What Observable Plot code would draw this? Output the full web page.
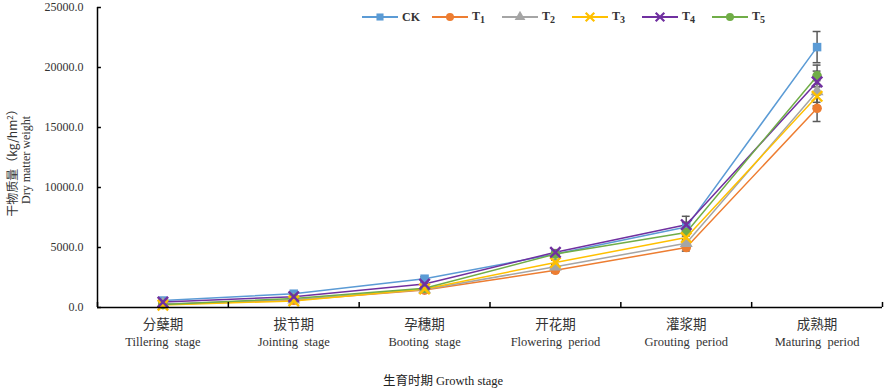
<!DOCTYPE html>
<html><head><meta charset="utf-8">
<script src="https://cdn.jsdelivr.net/npm/d3@7"></script>
<script src="https://cdn.jsdelivr.net/npm/@observablehq/plot@0.6"></script>
<style>
body{margin:0;background:#fff;}
#wrap{position:relative;width:886px;height:388px;font-family:"Liberation Serif",serif;}
#legend{position:absolute;top:9px;left:362px;display:flex;gap:0;font-family:"Liberation Serif",serif;font-size:12px;color:#333;}
.item{display:flex;align-items:center;width:70px;}
.item span{margin-left:4px;font-weight:bold;}
#xtitle{position:absolute;top:370px;left:0;width:886px;text-align:center;font-size:12.5px;font-family:"Liberation Serif","Noto Sans CJK SC",serif;color:#222;}
</style></head>
<body><div id="wrap"><div id="chart"></div><div id="legend"></div><div id="xtitle">生育时期 Growth stage</div></div>
<script>
const stagesCN = ["分蘖期","拔节期","孕穗期","开花期","灌浆期","成熟期"];
const stagesEN = ["Tillering  stage","Jointing  stage","Booting  stage","Flowering  period","Grouting  period","Maturing  period"];
const seriesNames = ["CK","T1","T2","T3","T4","T5"];
const seriesLabels = ["CK","T<sub>1</sub>","T<sub>2</sub>","T<sub>3</sub>","T<sub>4</sub>","T<sub>5</sub>"];
const colors = ["#5B9BD5","#ED7D31","#A5A5A5","#FFC000","#7030A0","#70AD47"];
const symbols = ["square","circle","triangle","times","times","circle"];
const CK = [580, 1150, 2400, 4450, 6700, 21700];
const T1 = [250, 600, 1450, 3100, 5000, 16600];
const T2 = [300, 650, 1500, 3400, 5350, 18000];
const T3 = [200, 550, 1550, 3750, 5830, 17600];
const T4 = [450, 900, 1950, 4600, 6900, 18800];
const T5 = [250, 750, 1600, 4450, 6250, 19300];
const errCK = [60, 90, 150, 250, 400, 1300];
const errT1 = [40, 60, 120, 200, 300, 1100];
const errT2 = [40, 60, 120, 200, 300, 900];
const errT3 = [40, 60, 120, 200, 300, 800];
const errT4 = [50, 70, 130, 220, 700, 900];
const errT5 = [40, 60, 120, 200, 300, 900];
const yTicks = [0, 5000, 10000, 15000, 20000, 25000];

const vals = [CK,T1,T2,T3,T4,T5];
const errs = [errCK,errT1,errT2,errT3,errT4,errT5];
const data = [];
vals.forEach((arr, s) => arr.forEach((v, i) => data.push({series: seriesNames[s], s, i, v, e: errs[s][i]})));
const bounds = d3.range(stagesCN.length + 1).map(k => k - 0.5);
const idx = d3.range(stagesCN.length);

const plot = Plot.plot({
  width: 886, height: 388,
  marginLeft: 97, marginRight: 4, marginTop: 7, marginBottom: 81,
  style: {fontFamily: '"Liberation Serif", serif', fontSize: "12px", color: "#333", background: "#fff"},
  x: {domain: [-0.5, stagesCN.length - 0.5], axis: null},
  y: {domain: [0, 25000], axis: null},
  color: {domain: seriesNames, range: colors},
  symbol: {domain: seriesNames, range: symbols},
  marks: [
    Plot.ruleX(data, {x: "i", y1: d => d.v - d.e, y2: d => d.v + d.e, stroke: "#595959", strokeWidth: 1.5}),
    Plot.ruleY(data, {y: d => d.v + d.e, x1: d => d.i - 0.03, x2: d => d.i + 0.03, stroke: "#595959", strokeWidth: 1.5}),
    Plot.ruleY(data, {y: d => d.v - d.e, x1: d => d.i - 0.03, x2: d => d.i + 0.03, stroke: "#595959", strokeWidth: 1.5}),
    Plot.line(data, {x: "i", y: "v", z: "series", stroke: "series", strokeWidth: 1.5}),
    Plot.dot(data.filter(d => d.s !== 3 && d.s !== 4), {x: "i", y: "v", symbol: "series", fill: "series", r: 4.8}),
    Plot.dot(data.filter(d => d.s === 3 || d.s === 4), {x: "i", y: "v", symbol: "series", stroke: "series", strokeWidth: 2.4, r: 4.8}),
    Plot.ruleX([-0.5], {stroke: "#000", strokeWidth: 1.5}),
    Plot.ruleY([0], {stroke: "#000", strokeWidth: 1.5}),
    Plot.ruleX(bounds, {x: d => d, y1: 0, y2: 420, stroke: "#000", strokeWidth: 1.5}),
    Plot.ruleY(yTicks, {y: d => d, x1: -0.5, x2: -0.47, stroke: "#000", strokeWidth: 1.5}),
    Plot.text(yTicks, {x: -0.5, y: d => d, text: d => d.toFixed(1), textAnchor: "end", dx: -14, fontSize: 12, fill: "#333"}),
    Plot.text(idx, {x: d => d, y: 0, text: d => stagesCN[d], dy: 17, fontSize: 13.5, fill: "#333", fontFamily: '"Noto Sans CJK SC", sans-serif'}),
    Plot.text(idx, {x: d => d, y: 0, text: d => stagesEN[d], dy: 34, fontSize: 12.5, fill: "#333"})
  ]
});
document.getElementById("chart").appendChild(plot);

const ns = "http://www.w3.org/2000/svg";
const g = document.createElementNS(ns, "g");
g.setAttribute("transform", "translate(17,160) rotate(-90)");
const t1 = document.createElementNS(ns, "text");
t1.setAttribute("text-anchor", "middle");
t1.setAttribute("font-size", "12");
t1.setAttribute("fill", "#333");
t1.setAttribute("font-family", '"Noto Sans CJK SC", sans-serif');
t1.innerHTML = '干物质量（kg/hm<tspan dy="-4" font-size="8">2</tspan><tspan dy="4">）</tspan>';
const t2 = document.createElementNS(ns, "text");
t2.setAttribute("text-anchor", "middle");
t2.setAttribute("font-size", "12");
t2.setAttribute("y", "13");
t2.setAttribute("fill", "#333");
t2.setAttribute("font-family", '"Liberation Serif", serif');
t2.textContent = "Dry matter weight";
g.appendChild(t1); g.appendChild(t2);
plot.appendChild(g);

const leg = document.getElementById("legend");
const map = {square: d3.symbolSquare, circle: d3.symbolCircle, triangle: d3.symbolTriangle, times: d3.symbolTimes};
seriesNames.forEach((n, s) => {
  const it = document.createElement("div");
  it.className = "item";
  const path = d3.symbol(map[symbols[s]], 50)();
  const filled = symbols[s] !== "times";
  it.innerHTML = `<svg width="36" height="12"><line x1="0" x2="36" y1="6" y2="6" stroke="${colors[s]}" stroke-width="1.8"/>` +
    `<path transform="translate(18,6)" d="${path}" ${filled ? `fill="${colors[s]}"` : `fill="none" stroke="${colors[s]}" stroke-width="2.2"`}/></svg>` +
    `<span>${seriesLabels[s]}</span>`;
  leg.appendChild(it);
});
</script></body></html>
